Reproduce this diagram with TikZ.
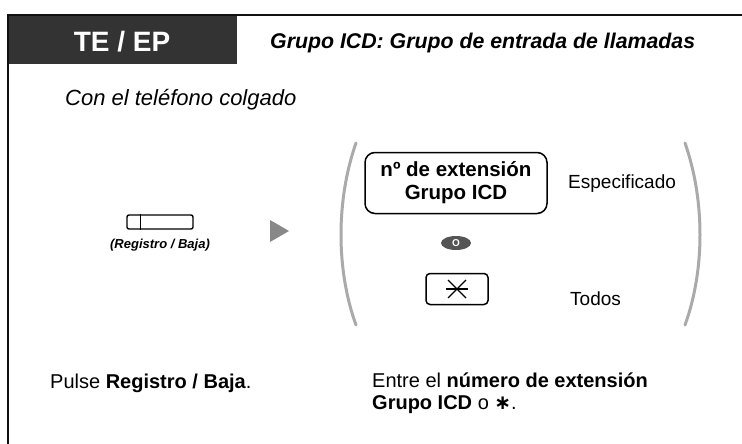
\documentclass[tikz,border=0pt]{standalone}
\usepackage{fontspec}
\setmainfont{Liberation Sans}
\newfontfamily\symfont{DejaVu Sans}
\usetikzlibrary{shapes.geometric}
\definecolor{headfill}{HTML}{333333}
\definecolor{framecol}{HTML}{111111}
\definecolor{parencol}{HTML}{AAAAAA}
\definecolor{tricol}{HTML}{888888}
\definecolor{ocol}{HTML}{555555}
\newcommand{\fsz}[1]{\fontsize{#1}{#1}\selectfont}
\begin{document}
\begin{tikzpicture}[x=1pt,y=-1pt,
  txt/.style={inner sep=0pt, anchor=base west},
  keybox/.style={draw=black, line width=1.5pt, inner sep=0pt},
  paren/.style={draw=parencol, line width=3pt, line cap=round},
  frameline/.style={draw=framecol, line width=2.5pt}]
\useasboundingbox (0,0) rectangle (742,444);
% frame and header
\fill[headfill] (8,15) rectangle (237,64);
\draw[frameline] (742,15) -- (8,15) -- (8,444);
\node[txt, anchor=base, text=white, font=\fsz{28}\bfseries] (te) at (122,52) {TE / EP};
\node[txt, font=\fsz{21.3}\bfseries\itshape] (title) at (270,49) {Grupo ICD: Grupo de entrada de llamadas};
\node[txt, font=\fsz{22}\itshape] (con) at (65,106) {Con el teléfono colgado};
% button
\node[draw=black, line width=1.4pt, rounded corners=2pt, minimum width=66pt, minimum height=14pt, inner sep=0pt] (btn) at (160,222) {};
\draw[line width=1.2pt] ([xshift=14pt]btn.north west) -- ([xshift=14pt]btn.south west);
\node[txt, anchor=base, font=\fsz{13}\bfseries\itshape] (btnlab) at (160,248) {(Registro / Baja)};
% arrow triangle
\fill[tricol] (270,220) -- (289,231) -- (270,242) -- cycle;
% parentheses
\draw[paren] (356,143) .. controls (336,200) and (336,270) .. (356,325);
\draw[paren] (685,143) .. controls (705,200) and (705,270) .. (685,325);
% extension box
\node[keybox, rounded corners=10pt, minimum width=182pt, minimum height=61pt, align=center, font=\fontsize{20.5}{23}\selectfont\bfseries] (ext) at (456,183) {nº de extensión\\Grupo ICD};
\node[txt, font=\fsz{19}] (esp) at (568,188) {Especificado};
% O
\node[ellipse, fill=ocol, minimum width=30pt, minimum height=14pt, inner sep=0pt, text=white, font=\fsz{10}\bfseries] (o) at (456,243) {O};
% star key
\node[keybox, rounded corners=4pt, minimum width=62pt, minimum height=31pt] (star) at (457,289) {};
\draw[line width=1.3pt] ([xshift=-11pt]star.center) -- ([xshift=11pt]star.center);
\draw[line width=1.3pt] ([xshift=-9pt,yshift=9pt]star.center) -- ([xshift=9pt,yshift=-9pt]star.center);
\draw[line width=1.3pt] ([xshift=-9pt,yshift=-9pt]star.center) -- ([xshift=9pt,yshift=9pt]star.center);
\node[txt, font=\fsz{19}] (todos) at (570,305) {Todos};
% bottom texts
\node[txt, font=\fsz{20}] (pulse) at (50,388) {Pulse \textbf{Registro / Baja}.};
\node[txt, font=\fontsize{20}{22}\selectfont, align=left, anchor=north west] (entre) at (372,373) {Entre el \textbf{número de extensión}\\\textbf{Grupo ICD} o {\symfont\bfseries ∗}.};
\end{tikzpicture}
\end{document}
